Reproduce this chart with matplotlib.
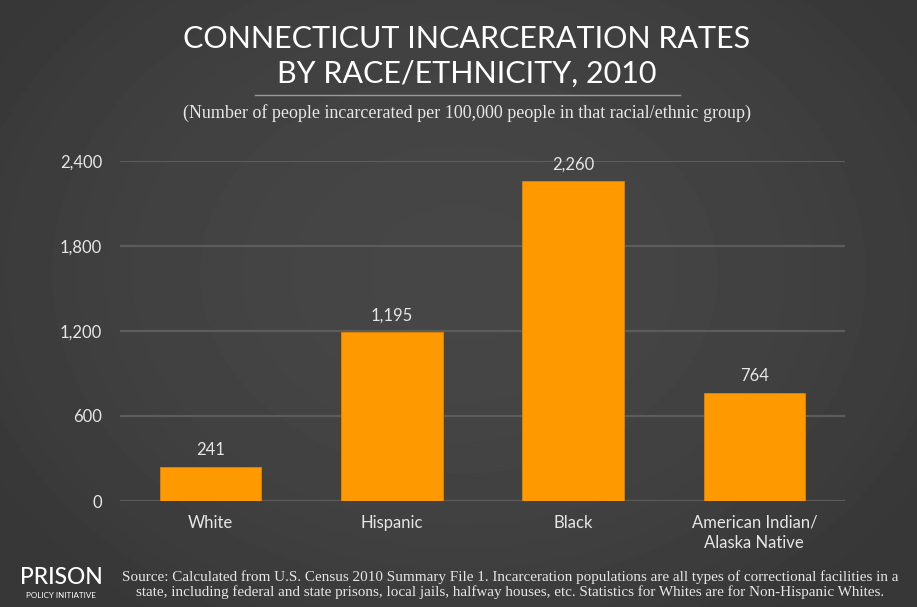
import numpy as np
import matplotlib.pyplot as plt
from matplotlib.ticker import FuncFormatter

groups = ["White", "Hispanic", "Black", "American Indian/\nAlaska Native"]
rates = [241, 1195, 2260, 764]
yticks = [0, 600, 1200, 1800, 2400]

title = "CONNECTICUT INCARCERATION RATES\nBY RACE/ETHNICITY, 2010"
subtitle = "(Number of people incarcerated per 100,000 people in that racial/ethnic group)"
source = ("Source: Calculated from U.S. Census 2010 Summary File 1. Incarceration populations are all types of correctional facilities in a\n"
          "state, including federal and state prisons, local jails, halfway houses, etc. Statistics for Whites are for Non-Hispanic Whites.")

W, H = 917, 607
fig = plt.figure(figsize=(W / 100, H / 100), dpi=100)

# dark background, a bit lighter in the middle
bg = fig.add_axes([0, 0, 1, 1])
yy, xx = np.mgrid[0:H, 0:W]
r = np.sqrt(((xx - W / 2) / (W * 0.6)) ** 2 + ((yy - H * 0.45) / (H * 0.7)) ** 2)
shade = 0.275 - 0.06 * np.clip(r, 0, 1) ** 2
bg.imshow(shade, cmap="gray", vmin=0, vmax=1, aspect="auto", extent=[0, 1, 0, 1])
bg.set_axis_off()

sans = ["Lato", "DejaVu Sans"]
serif = ["Liberation Serif", "DejaVu Serif"]
light = "#e6e6e6"

ax = fig.add_axes([120 / W, 1 - 501 / H, 725 / W, 340 / H])
ax.set_facecolor("none")
x = np.arange(len(groups))
bars = ax.bar(x, rates, width=0.56, color="#ff9900", edgecolor="#e08500", linewidth=0.6, zorder=3)
for b, v in zip(bars, rates):
    ax.text(b.get_x() + b.get_width() / 2, v + 60, f"{v:,}", ha="center", va="bottom",
            color=light, fontsize=12, family=sans)

ax.set_xlim(-0.5, 3.5)
ax.set_ylim(0, 2400)
ax.set_yticks(yticks)
ax.yaxis.set_major_formatter(FuncFormatter(lambda v, p: f"{int(v):,}"))
ax.grid(axis="y", color="#5c5c5c", linewidth=1.6, zorder=0)
ax.set_xticks(x)
ax.set_xticklabels(groups, color=light, fontsize=12, family=sans, linespacing=1.3, va="top")
ax.tick_params(axis="both", length=0, colors=light, labelsize=12)
ax.tick_params(axis="x", pad=10)
ax.tick_params(axis="y", pad=13)
for lab in ax.get_yticklabels():
    lab.set_family(sans)
for s in ax.spines.values():
    s.set_visible(False)

fig.text(467 / W, 1 - 56 / H, title, ha="center", va="center", color="white",
         fontsize=22, family=sans, fontweight="normal", linespacing=1.3)
fig.add_artist(plt.Line2D([255 / W, 680 / W], [1 - 95 / H, 1 - 95 / H], color="#9a9a9a", lw=1))
fig.text(467 / W, 1 - 113 / H, subtitle, ha="center", va="center", color=light,
         fontsize=13, family=serif)

fig.text(61 / W, 1 - 578 / H, "PRISON", ha="center", va="center", color="white",
         fontsize=16.5, family=sans, fontweight="medium")
fig.text(61 / W, 1 - 595 / H, "POLICY INITIATIVE", ha="center", va="center", color="white",
         fontsize=5.8, family=sans)
fig.text(510 / W, 1 - 585 / H, source, ha="center", va="center", color=light,
         fontsize=10.9, family=serif, linespacing=1.1)

fig.savefig("out.png", dpi=100)
